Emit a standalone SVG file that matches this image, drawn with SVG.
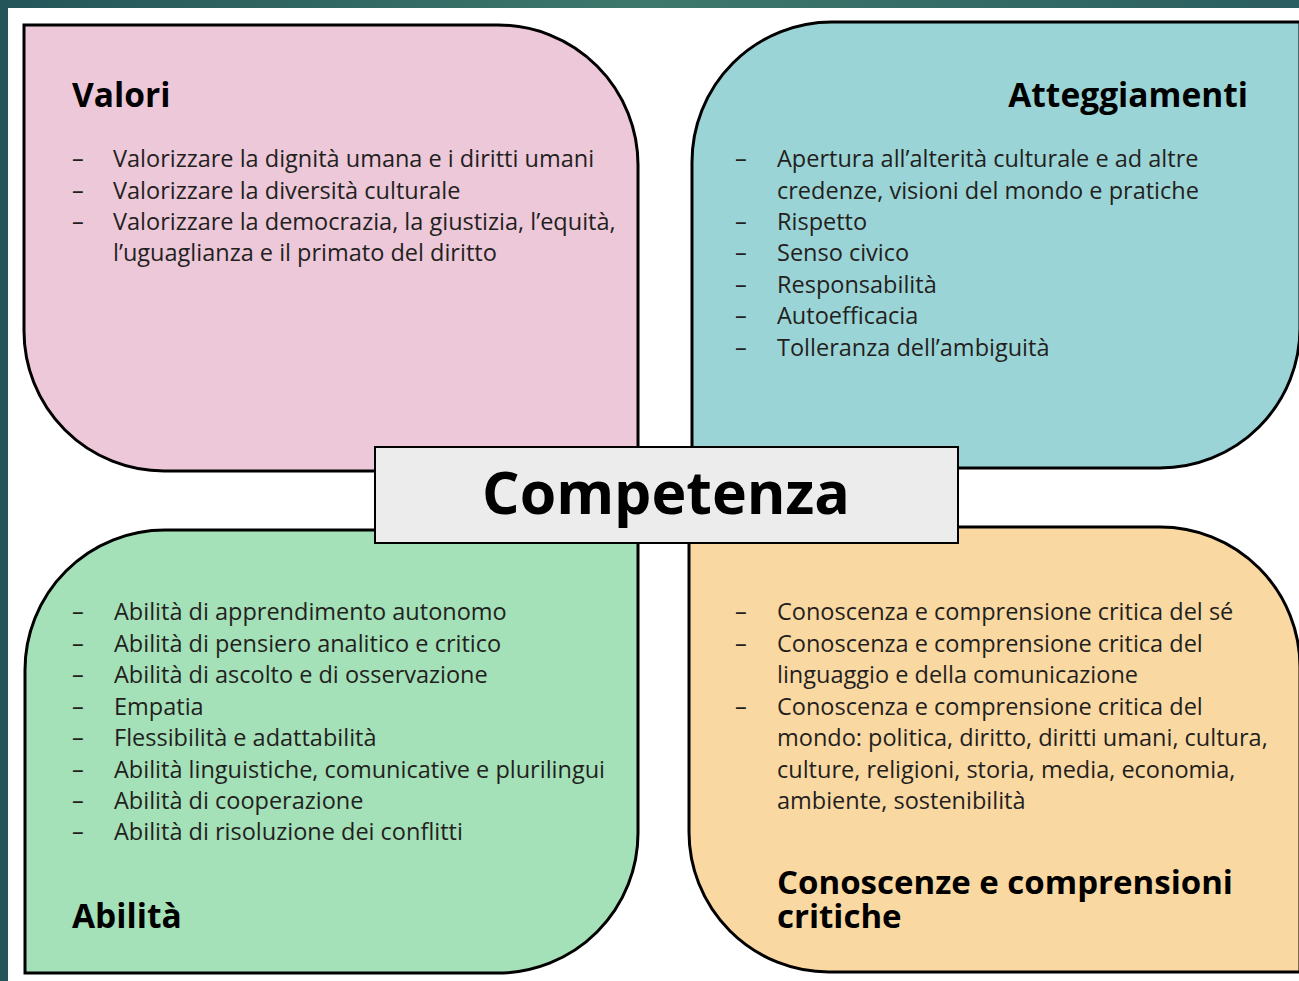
<svg xmlns="http://www.w3.org/2000/svg" width="1299" height="981" viewBox="0 0 1299 981">
<defs>
<linearGradient id="topg" x1="0" y1="0" x2="1" y2="0">
<stop offset="0" stop-color="#245659"/>
<stop offset="0.5" stop-color="#3e786c"/>
<stop offset="1" stop-color="#2a5e60"/>
</linearGradient>
<style>
.sh{stroke:#000;stroke-width:3;}
.t{font-family:"Open Sans","Noto Sans",sans-serif;font-size:23.5px;fill:#231f20;}
.h{font-family:"Open Sans","Noto Sans",sans-serif;font-size:33.5px;font-weight:bold;fill:#000;}
.h2{font-family:"Open Sans","Noto Sans",sans-serif;font-size:33px;font-weight:bold;fill:#000;}
.c{font-family:"Open Sans","Noto Sans",sans-serif;font-size:59px;font-weight:bold;fill:#000;}
</style>
</defs>
<rect x="0" y="0" width="1299" height="981" fill="#fff"/>
<rect x="0" y="0" width="1299" height="8" fill="url(#topg)"/>
<rect x="0" y="0" width="8" height="981" fill="#245659"/>

<g id="valori">
<path class="sh" fill="#ecc8d9" d="M24,25 H498 A140,140 0 0 1 638,165 V471 H164 A140,140 0 0 1 24,331 Z"/>
<text class="h" x="72" y="107">Valori</text>
<g class="t">
<text x="72" y="167">–</text><text x="113" y="167">Valorizzare la dignità umana e i diritti umani</text>
<text x="72" y="199">–</text><text x="113" y="199">Valorizzare la diversità culturale</text>
<text x="72" y="230">–</text><text x="113" y="230">Valorizzare la democrazia, la giustizia, l’equità,</text>
<text x="113" y="261">l’uguaglianza e il primato del diritto</text>
</g>
</g>

<g id="atteggiamenti">
<path class="sh" fill="#9bd4d6" d="M832,22 H1300 V328 A140,140 0 0 1 1160,468 H692 V162 A140,140 0 0 1 832,22 Z"/>
<text class="h" x="1248" y="107" text-anchor="end">Atteggiamenti</text>
<g class="t">
<text x="735" y="167">–</text><text x="777" y="167">Apertura all’alterità culturale e ad altre</text>
<text x="777" y="199">credenze, visioni del mondo e pratiche</text>
<text x="735" y="230">–</text><text x="777" y="230">Rispetto</text>
<text x="735" y="261">–</text><text x="777" y="261">Senso civico</text>
<text x="735" y="293">–</text><text x="777" y="293">Responsabilità</text>
<text x="735" y="324">–</text><text x="777" y="324">Autoefficacia</text>
<text x="735" y="356">–</text><text x="777" y="356">Tolleranza dell’ambiguità</text>
</g>
</g>

<g id="abilita">
<path class="sh" fill="#a4e0b8" d="M165,530 H638 V833 A140,140 0 0 1 498,973 H25 V670 A140,140 0 0 1 165,530 Z"/>
<g class="t">
<text x="72" y="620">–</text><text x="114" y="620">Abilità di apprendimento autonomo</text>
<text x="72" y="652">–</text><text x="114" y="652">Abilità di pensiero analitico e critico</text>
<text x="72" y="683">–</text><text x="114" y="683">Abilità di ascolto e di osservazione</text>
<text x="72" y="715">–</text><text x="114" y="715">Empatia</text>
<text x="72" y="746">–</text><text x="114" y="746">Flessibilità e adattabilità</text>
<text x="72" y="778">–</text><text x="114" y="778">Abilità linguistiche, comunicative e plurilingui</text>
<text x="72" y="809">–</text><text x="114" y="809">Abilità di cooperazione</text>
<text x="72" y="840">–</text><text x="114" y="840">Abilità di risoluzione dei conflitti</text>
</g>
<text class="h" x="72" y="928">Abilità</text>
</g>

<g id="conoscenze">
<path class="sh" fill="#fad8a2" d="M689,527 H1160 A140,140 0 0 1 1300,667 V972 H829 A140,140 0 0 1 689,832 Z"/>
<g class="t">
<text x="735" y="620">–</text><text x="777" y="620">Conoscenza e comprensione critica del sé</text>
<text x="735" y="652">–</text><text x="777" y="652">Conoscenza e comprensione critica del</text>
<text x="777" y="683">linguaggio e della comunicazione</text>
<text x="735" y="715">–</text><text x="777" y="715">Conoscenza e comprensione critica del</text>
<text x="777" y="746">mondo: politica, diritto, diritti umani, cultura,</text>
<text x="777" y="778">culture, religioni, storia, media, economia,</text>
<text x="777" y="809">ambiente, sostenibilità</text>
</g>
<text class="h2" x="777" y="894">Conoscenze e comprensioni</text>
<text class="h2" x="777" y="928">critiche</text>
</g>

<g id="competenza">
<rect x="375" y="447" width="583" height="96" fill="#ececec" stroke="#000" stroke-width="2"/>
<text class="c" x="666" y="514" text-anchor="middle">Competenza</text>
</g>
<g id="connectors"/>
</svg>
